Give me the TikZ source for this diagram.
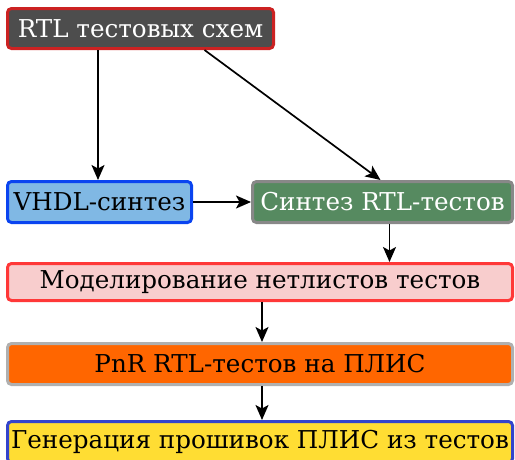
\documentclass[tikz,border=0pt]{standalone}
\usepackage{fontspec}
\setmainfont{DejaVu Serif}
\usetikzlibrary{arrows.meta,calc}
\definecolor{c1fill}{HTML}{4D4D4D}
\definecolor{c1line}{HTML}{CC2222}
\definecolor{c2fill}{HTML}{80B8E4}
\definecolor{c2line}{HTML}{0A44F0}
\definecolor{c3fill}{HTML}{568A60}
\definecolor{c3line}{HTML}{888888}
\definecolor{c4fill}{HTML}{F8CDCD}
\definecolor{c4line}{HTML}{FF3838}
\definecolor{c5fill}{HTML}{FF6600}
\definecolor{c5line}{HTML}{B0B0B0}
\definecolor{c6fill}{HTML}{FFDD33}
\definecolor{c6line}{HTML}{3344CC}
\tikzset{
  box/.style={rectangle, rounded corners=4pt, line width=3pt, inner sep=0pt,
    font=\fontsize{24.6}{29}\selectfont, anchor=center},
  arr/.style={line width=1.7pt, -{Stealth[length=15pt,width=13pt,inset=3.5pt]}}
}
\begin{document}
\begin{tikzpicture}[x=1pt,y=-1pt]
\useasboundingbox (0,0) rectangle (515,459);
\node[box, draw=c1line, fill=c1fill, text=white, minimum width=266pt, minimum height=40pt] (n1) at (140.5,28.5) {RTL тестовых схем};
\node[box, draw=c2line, fill=c2fill, text=black, minimum width=184pt, minimum height=41pt] (n2) at (99.5,202) {VHDL-синтез};
\node[box, draw=c3line, fill=c3fill, text=white, minimum width=260pt, minimum height=41pt] (n3) at (382.5,202) {Синтез RTL-тестов};
\node[box, draw=c4line, fill=c4fill, text=black, minimum width=505pt, minimum height=37pt] (n4) at (260,282) {Моделирование нетлистов тестов};
\node[box, draw=c5line, fill=c5fill, text=black, minimum width=505pt, minimum height=41pt] (n5) at (260,364) {PnR RTL-тестов на ПЛИС};
\node[box, draw=c6line, fill=c6fill, text=black, minimum width=505pt, minimum height=41pt] (n6) at (260,442) {Генерация прошивок ПЛИС из тестов};
\draw[arr] ([xshift=-1.5pt]n2.north |- n1.south) -- ([xshift=-1.5pt]n2.north);
\draw[arr] ([xshift=64pt]n1.south) -- ([xshift=-2pt]n3.north);
\draw[arr] (n2.east) -- (n3.west);
\draw[arr] ([xshift=7pt]n3.south) -- ([xshift=7pt]n3.south |- n4.north);
\draw[arr] ([xshift=2pt]n4.south) -- ([xshift=2pt]n5.north);
\draw[arr] ([xshift=2pt]n5.south) -- ([xshift=2pt]n6.north);
\end{tikzpicture}
\end{document}
